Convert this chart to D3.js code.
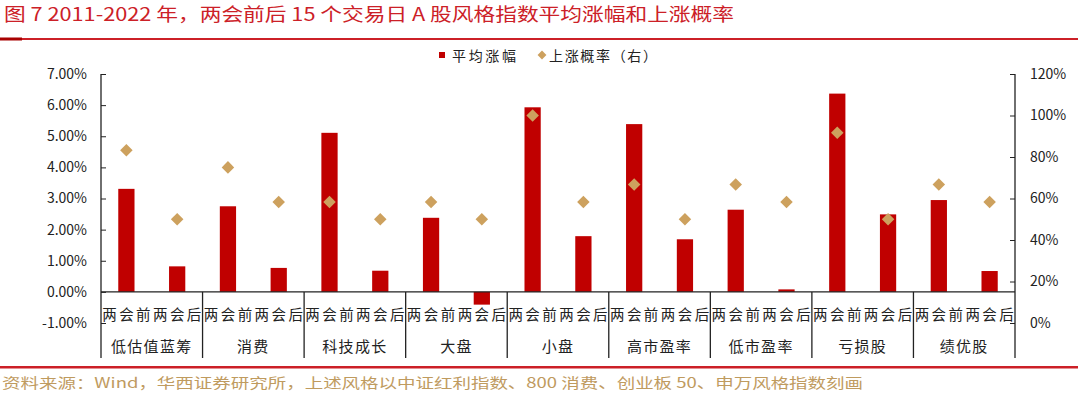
<!DOCTYPE html>
<html lang="zh">
<head>
<meta charset="UTF-8">
<title>两会前后风格指数</title>
<style>
  body { margin: 0; background: #fff; }
  svg text { font-family: "Noto Sans CJK SC", "Noto Sans", sans-serif; }
</style>
</head>
<body>
<script src="https://d3js.org/d3.v7.min.js"></script>
<script>
    const width = 1080, height = 393;

    // data
    const categories = ['低估值蓝筹', '消费', '科技成长', '大盘', '小盘', '高市盈率', '低市盈率', '亏损股', '绩优股'];
    const phases = ['两会前', '两会后'];
    const avgBefore = [3.31, 2.75, 5.11, 2.38, 5.93, 5.39, 2.64, 6.37, 2.95];
    const avgAfter = [0.82, 0.77, 0.68, -0.41, 1.79, 1.69, 0.08, 2.49, 0.67];
    const probBefore = [83.3, 75.0, 58.3, 58.3, 100, 66.7, 66.7, 91.7, 66.7];
    const probAfter = [50.0, 58.3, 50.0, 50.0, 58.3, 50.0, 58.3, 50.0, 58.3];
    const leftTicks = [-1, 0, 1, 2, 3, 4, 5, 6, 7];
    const rightTicks = [0, 20, 40, 60, 80, 100, 120];

    const rows = [];
    categories.forEach((c, i) => {
        rows.push({cat: c, phase: phases[0], avg: avgBefore[i], prob: probBefore[i]});
        rows.push({cat: c, phase: phases[1], avg: avgAfter[i], prob: probAfter[i]});
    });

    const barColor = '#C00000', dotColor = '#CDA15E', red = '#CC2027', gold = '#BF9B5F';

    const svg = d3.select('body').append('svg')
        .attr('width', width).attr('height', height);

    // title
    svg.append('text')
        .attr('x', 4).attr('y', 13)
        .attr('dominant-baseline', 'central')
        .attr('fill', red).attr('font-size', 18)
        .attr('textLength', 730).attr('lengthAdjust', 'spacingAndGlyphs')
        .text('图 7 2011-2022 年，两会前后 15 个交易日 A 股风格指数平均涨幅和上涨概率');
    svg.append('rect').attr('x', 0).attr('y', 38).attr('width', 1078).attr('height', 2).attr('fill', red);
    svg.append('rect').attr('x', 0).attr('y', 37.5).attr('width', 22).attr('height', 3).attr('fill', '#A80000');

    // scales
    const plotL = 101, plotR = 1015, plotT = 74, plotB = 323, lineEnd = 358;
    const x = d3.scaleBand().domain(categories).range([plotL, plotR]);
    const xSub = d3.scaleBand().domain(phases).range([0, x.bandwidth()]);
    const yL = d3.scaleLinear().domain([-1, 7]).range([plotB, plotT]);
    const yR = d3.scaleLinear().domain([0, 120]).range([plotB, plotT]);
    const barW = xSub.bandwidth() * 0.32;

    // legend
    const lg = svg.append('g').attr('font-size', 14).attr('fill', '#222');
    lg.append('rect').attr('x', 439).attr('y', 52).attr('width', 6).attr('height', 6).attr('fill', barColor);
    lg.append('text').attr('x', 452).attr('y', 55).attr('dominant-baseline', 'central')
        .attr('textLength', 64).attr('lengthAdjust', 'spacing').text('平均涨幅');
    lg.append('path').attr('d', d3.symbol(d3.symbolDiamond2, 50)()).attr('transform', 'translate(542,55)').attr('fill', dotColor);
    lg.append('text').attr('x', 549).attr('y', 55).attr('dominant-baseline', 'central')
        .attr('textLength', 108).attr('lengthAdjust', 'spacing').text('上涨概率（右）');

    // axes
    const axL = svg.append('g').attr('transform', `translate(${plotL},0)`)
        .call(d3.axisLeft(yL).tickValues(leftTicks).tickSizeInner(-5).tickSizeOuter(0).tickPadding(14)
            .tickFormat(d => d.toFixed(2) + '%'));
    const axR = svg.append('g').attr('transform', `translate(${plotR},0)`)
        .call(d3.axisRight(yR).tickValues(rightTicks).tickSizeInner(-5).tickSizeOuter(0).tickPadding(15)
            .tickFormat(d => d + '%'));
    [axL, axR].forEach(a => {
        a.select('.domain').remove();
        a.selectAll('line').attr('stroke', '#222');
        a.selectAll('text').attr('font-family', '"Liberation Sans", Arial, sans-serif')
            .attr('font-size', 14).attr('fill', '#222');
    });

    // bars
    svg.append('g').selectAll('rect').data(rows).enter().append('rect')
        .attr('x', d => x(d.cat) + xSub(d.phase) + (xSub.bandwidth() - barW) / 2)
        .attr('width', barW)
        .attr('y', d => yL(Math.max(0, d.avg)))
        .attr('height', d => Math.abs(yL(d.avg) - yL(0)))
        .attr('fill', barColor);

    // category axis
    const ax = svg.append('g').attr('stroke', '#222').attr('stroke-width', 1.3);
    ax.append('line').attr('x1', plotL).attr('x2', plotR).attr('y1', yL(0)).attr('y2', yL(0));
    ax.selectAll('.sep').data(categories.concat(['end'])).enter().append('line')
        .attr('x1', (d, i) => i < categories.length ? x(d) : plotR)
        .attr('x2', (d, i) => i < categories.length ? x(d) : plotR)
        .attr('y1', (d, i) => (i === 0 || i === categories.length) ? plotT : yL(0))
        .attr('y2', lineEnd);

    // sub labels
    svg.append('g').selectAll('text').data(rows).enter().append('text')
        .attr('x', d => x(d.cat) + xSub(d.phase) + xSub.bandwidth() / 2)
        .attr('y', 313)
        .attr('text-anchor', 'middle').attr('dominant-baseline', 'central')
        .attr('font-size', 14.5).attr('fill', '#222')
        .attr('textLength', 48.4).attr('lengthAdjust', 'spacing')
        .text(d => d.phase);

    // group labels
    svg.append('g').selectAll('text').data(categories).enter().append('text')
        .attr('x', d => x(d) + x.bandwidth() / 2)
        .attr('y', 345)
        .attr('text-anchor', 'middle').attr('dominant-baseline', 'central')
        .attr('font-size', 15).attr('fill', '#222')
        .attr('letter-spacing', 1.3)
        .text(d => d);

    // diamonds (right axis)
    svg.append('g').selectAll('path').data(rows).enter().append('path')
        .attr('d', d3.symbol(d3.symbolDiamond2, 100)())
        .attr('transform', d => `translate(${x(d.cat) + xSub(d.phase) + xSub.bandwidth() / 2},${yR(d.prob)})`)
        .attr('fill', dotColor);

    // footer
    svg.append('rect').attr('x', 0).attr('y', 366).attr('width', 1078).attr('height', 2.5).attr('fill', red);
    svg.append('text')
        .attr('x', 2).attr('y', 382)
        .attr('dominant-baseline', 'central')
        .attr('fill', gold).attr('font-size', 14)
        .attr('textLength', 861).attr('lengthAdjust', 'spacingAndGlyphs')
        .text('资料来源：Wind，华西证券研究所，上述风格以中证红利指数、800 消费、创业板 50、申万风格指数刻画');
</script>
</body>
</html>
